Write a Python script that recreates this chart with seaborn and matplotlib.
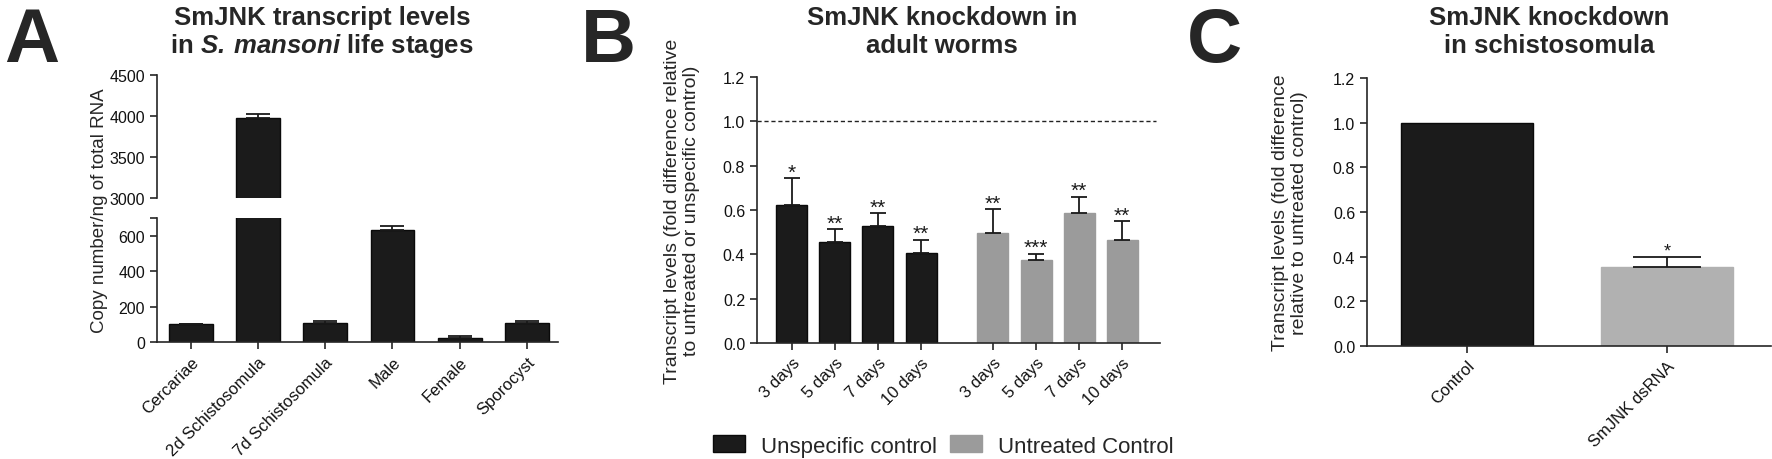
import numpy as np
import pandas as pd
import matplotlib
matplotlib.use('Agg')
import matplotlib.pyplot as plt
from matplotlib.patches import Patch
import seaborn as sns

# ========== DATA ==========
# panel A - copy numbers per life stage
stages = ['Cercariae', '2d Schistosomula', '7d Schistosomula', 'Male', 'Female', 'Sporocyst']
copy_number = [101, 3975, 108, 634, 25, 107]
copy_err = [3, 55, 8, 21, 9, 9]

# panel B - knockdown in adult worms
days = ['3 days', '5 days', '7 days', '10 days']
groups = ['Unspecific control', 'Untreated Control']
unspecific_vals = [0.622, 0.457, 0.529, 0.407]
unspecific_err = [0.122, 0.057, 0.057, 0.059]
untreated_vals = [0.495, 0.376, 0.585, 0.465]
untreated_err = [0.109, 0.027, 0.075, 0.085]
unspecific_stars = ['*', '**', '**', '**']
untreated_stars = ['**', '***', '**', '**']

# panel C - knockdown in schistosomula
c_labels = ['Control', 'SmJNK dsRNA']
c_vals = [1.0, 0.355]
c_err = [0.0, 0.045]
c_stars = ['', '*']

BLACK = '#1b1b1b'
GREY_B = '#9b9b9b'
GREY_C = '#b1b1b1'
SPINE = '#262626'

# ========== STYLE ==========
sns.set_style('ticks')
plt.rcParams['font.family'] = ['Liberation Sans', 'DejaVu Sans']
plt.rcParams['mathtext.fontset'] = 'custom'
plt.rcParams['mathtext.rm'] = 'Liberation Sans:bold'
plt.rcParams['mathtext.bfit'] = 'Liberation Sans:italic:bold'
plt.rcParams['axes.edgecolor'] = SPINE
plt.rcParams['axes.linewidth'] = 1.2
plt.rcParams['xtick.color'] = SPINE
plt.rcParams['ytick.color'] = SPINE
plt.rcParams['xtick.labelcolor'] = '#111111'
plt.rcParams['ytick.labelcolor'] = '#111111'
plt.rcParams['xtick.major.width'] = 1.2
plt.rcParams['ytick.major.width'] = 1.2
plt.rcParams['ytick.minor.width'] = 1.2
plt.rcParams['xtick.major.size'] = 5
plt.rcParams['ytick.major.size'] = 5
plt.rcParams['ytick.minor.size'] = 5

W, H = 1772, 460
fig = plt.figure(figsize=(W / 100, H / 100), dpi=100)


def box(x0, y0, x1, y1):
    # pixel box (top-left origin) -> figure fraction rect
    return [x0 / W, 1 - y1 / H, (x1 - x0) / W, (y1 - y0) / H]


def up_errors(ax, xs, vals, errs, capsize, color='#1a1a1a'):
    ax.errorbar(xs, vals, yerr=[np.zeros(len(errs)), errs], fmt='none',
                ecolor=color, elinewidth=1.3, capsize=capsize, capthick=1.3, zorder=3)


def stars(ax, xs, tops, labels, size=15):
    for x, y, s in zip(xs, tops, labels):
        if s:
            ax.annotate(s, (x, y), xytext=(0, 0.5), textcoords='offset points',
                        ha='center', va='baseline', fontsize=size, color='#1a1a1a')


# ========== PANEL A (broken axis) ==========
df_a = pd.DataFrame({'stage': stages, 'copies': copy_number, 'err': copy_err})
ax_lo = fig.add_axes(box(157, 219, 558, 343))
ax_hi = fig.add_axes(box(157, 76, 558, 199), sharex=ax_lo)
for ax in (ax_lo, ax_hi):
    sns.barplot(data=df_a, x='stage', y='copies', ax=ax, color=BLACK,
                edgecolor='#0a0a0a', linewidth=1, width=0.65, errorbar=None, saturation=1)
    up_errors(ax, np.arange(len(stages)), df_a['copies'], df_a['err'], capsize=8.5)
    ax.set_xlim(-0.5, 5.46)
    ax.set_xlabel('')
    ax.set_ylabel('')
    ax.tick_params(labelsize=11.5)
ax_lo.set_ylim(0, 700)
ax_lo.set_yticks([0, 200, 400, 600])
ax_lo.set_yticks([700], minor=True)
ax_lo.set_xticks(np.arange(len(stages)))
ax_lo.set_xticklabels(stages, rotation=45, ha='right', va='top', rotation_mode='anchor', fontsize=12)
ax_hi.set_ylim(3000, 4500)
ax_hi.set_yticks([3000, 3500, 4000, 4500])
ax_hi.tick_params(axis='x', bottom=False, labelbottom=False)
sns.despine(ax=ax_lo)
sns.despine(ax=ax_hi, bottom=True)
fig.text(100 / W, 1 - 211 / H, 'Copy number/ng of total RNA', rotation=90,
         ha='center', va='center', fontsize=13.5)

# ========== PANEL B ==========
gap = 0.67
df_b = pd.DataFrame({
    'day': days + days,
    'group': [groups[0]] * 4 + [groups[1]] * 4,
    'value': unspecific_vals + untreated_vals,
    'err': unspecific_err + untreated_err,
    'star': unspecific_stars + untreated_stars,
})
df_b['pos'] = np.arange(len(df_b)) + np.where(df_b['group'] == groups[1], gap, 0)
ax_b = fig.add_axes(box(757, 78, 1160, 344))
sns.barplot(data=df_b, x='pos', y='value', hue='group', native_scale=True, dodge=False,
            palette=[BLACK, GREY_B], width=0.72, errorbar=None, saturation=1,
            legend=False, ax=ax_b, linewidth=1)
for bar in ax_b.patches:
    fc = bar.get_facecolor()
    bar.set_edgecolor('#0a0a0a' if fc[0] < 0.3 else GREY_B)
up_errors(ax_b, df_b['pos'], df_b['value'], df_b['err'], capsize=5.8)
stars(ax_b, df_b['pos'], df_b['value'] + df_b['err'], df_b['star'])
ax_b.axhline(1.0, color='#222222', lw=1, ls=(0, (3, 2)), xmax=0.99, zorder=1)
ax_b.set_xlim(-0.81, df_b['pos'].iloc[-1] + 0.88)
ax_b.set_ylim(0, 1.2)
ax_b.set_yticks(np.arange(0, 1.21, 0.2))
ax_b.yaxis.set_major_formatter(matplotlib.ticker.FormatStrFormatter('%.1f'))
ax_b.set_xticks(df_b['pos'])
ax_b.set_xticklabels(df_b['day'], rotation=45, ha='right', va='top', rotation_mode='anchor', fontsize=12)
ax_b.tick_params(axis='y', labelsize=11.5)
ax_b.set_xlabel('')
ax_b.set_ylabel('')
sns.despine(ax=ax_b)
fig.text(682 / W, 1 - 211 / H,
         'Transcript levels (fold difference relative\nto untreated or unspecific control)',
         rotation=90, ha='center', va='center', fontsize=14, linespacing=1.1)
handles = [Patch(facecolor=BLACK, edgecolor='#0a0a0a'), Patch(facecolor=GREY_B, edgecolor=GREY_B)]
fig.legend(handles, groups, loc='center left', bbox_to_anchor=(713 / W, 1 - 447 / H),
           ncol=2, frameon=False, fontsize=16, handlelength=1.45, handleheight=0.8,
           handletextpad=0.7, columnspacing=0.6, borderpad=0, borderaxespad=0)

# ========== PANEL C ==========
df_c = pd.DataFrame({'group': c_labels, 'value': c_vals, 'err': c_err, 'star': c_stars})
ax_c = fig.add_axes(box(1367, 79, 1771, 347))
sns.barplot(data=df_c, x='group', y='value', hue='group', palette=[BLACK, GREY_C],
            width=0.66, errorbar=None, saturation=1, legend=False, ax=ax_c, linewidth=1)
ax_c.patches[0].set_edgecolor('#0a0a0a')
ax_c.patches[1].set_edgecolor(GREY_C)
xc = np.arange(len(c_labels))
sel = df_c['err'] > 0
up_errors(ax_c, xc[sel], df_c['value'][sel], df_c['err'][sel], capsize=24.5)
stars(ax_c, xc, df_c['value'] + df_c['err'], df_c['star'], size=13)
ax_c.set_xlim(-0.5, 1.52)
ax_c.set_ylim(0, 1.2)
ax_c.set_yticks(np.arange(0, 1.21, 0.2))
ax_c.yaxis.set_major_formatter(matplotlib.ticker.FormatStrFormatter('%.1f'))
ax_c.set_xticks(xc)
ax_c.set_xticklabels(c_labels, rotation=45, ha='right', va='top', rotation_mode='anchor', fontsize=12)
ax_c.tick_params(axis='y', labelsize=11.5)
ax_c.set_xlabel('')
ax_c.set_ylabel('')
sns.despine(ax=ax_c)
fig.text(1290 / W, 1 - 213 / H,
         'Transcript levels (fold difference\nrelative to untreated control)',
         rotation=90, ha='center', va='center', fontsize=14, linespacing=1.1)

# ========== TITLES AND PANEL LETTERS ==========
titles = [
    (322, 'SmJNK transcript levels', r'in $\mathbfit{S.\!\ mansoni}$ life stages'),
    (942, 'SmJNK knockdown in', 'adult worms'),
    (1549, 'SmJNK knockdown', 'in schistosomula'),
]
for x, l1, l2 in titles:
    fig.text(x / W, 1 - 25 / H, l1, ha='center', va='baseline', fontsize=18.5, fontweight='bold')
    fig.text(x / W, 1 - 53 / H, l2, ha='center', va='baseline', fontsize=18.5, fontweight='bold')

for x, letter in [(4, 'A'), (581, 'B'), (1187, 'C')]:
    fig.text(x / W, 1 - 62 / H, letter, ha='left', va='baseline', fontsize=55, fontweight='bold')

fig.savefig('out.png', dpi=100, facecolor='white')
